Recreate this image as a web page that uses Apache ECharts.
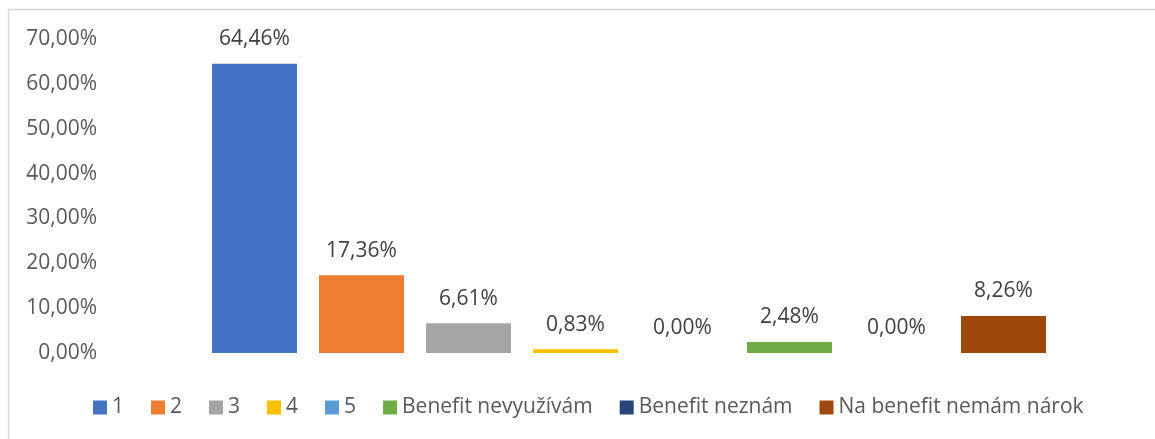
<!DOCTYPE html>
<html>
<head>
<meta charset="utf-8">
<script src="https://cdn.jsdelivr.net/npm/echarts@6/dist/echarts.min.js"></script>
<style>html,body{margin:0;padding:0;background:#fff;}#c{width:1155px;height:439px;}</style>
</head>
<body>
<div id="c"></div>
<script>
var categories = ['1', '2', '3', '4', '5', 'Benefit nevyužívám', 'Benefit neznám', 'Na benefit nemám nárok'];
var values = [64.46, 17.36, 6.61, 0.83, 0.00, 2.48, 0.00, 8.26];
var colors = ['#4472C4', '#ED7D31', '#A5A5A5', '#FFC000', '#5B9BD5', '#70AD47', '#264478', '#9E480E'];
var yTicks = [0, 10, 20, 30, 40, 50, 60, 70];

function fmt(v) { return Number(v).toFixed(2).replace('.', ',') + '%'; }

var FONT = 'Open Sans';
var series = categories.map(function (name, i) {
  var d = categories.map(function (c, j) { return j === i ? values[i] : '-'; });
  return {
    name: name,
    type: 'bar',
    stack: 'all',
    data: d,
    barWidth: 85,
    itemStyle: { color: colors[i] },
    label: {
      show: true,
      position: 'top',
      distance: 14,
      color: '#404040',
      fontFamily: FONT,
      fontSize: 21,
      formatter: function (p) { return fmt(p.value); }
    }
  };
});

var chart = echarts.init(document.getElementById('c'));
chart.setOption({
  animation: false,
  backgroundColor: '#fff',
  graphic: [{
    type: 'rect',
    shape: { x: 8.5, y: 9.5, width: 1300, height: 1000 },
    style: { fill: 'none', stroke: '#d9d9d9', lineWidth: 1.5 },
    silent: true
  }],
  grid: { left: 201, right: 98, top: 39, bottom: 86 },
  xAxis: {
    type: 'category',
    data: categories,
    axisLine: { show: false },
    axisTick: { show: false },
    axisLabel: { show: false }
  },
  yAxis: {
    type: 'value',
    min: yTicks[0],
    max: yTicks[yTicks.length - 1],
    interval: 10,
    splitLine: { show: false },
    axisLine: { show: false },
    axisTick: { show: false },
    axisLabel: {
      margin: 104,
      color: '#595959',
      fontFamily: FONT,
      fontSize: 21,
      formatter: function (v) { return fmt(v); }
    }
  },
  legend: {
    data: categories,
    left: 88,
    top: 392,
    itemWidth: 14,
    itemHeight: 14,
    itemGap: 27,
    icon: 'rect',
    textStyle: { color: '#595959', fontFamily: FONT, fontSize: 21 }
  },
  series: series
});
</script>
</body>
</html>
